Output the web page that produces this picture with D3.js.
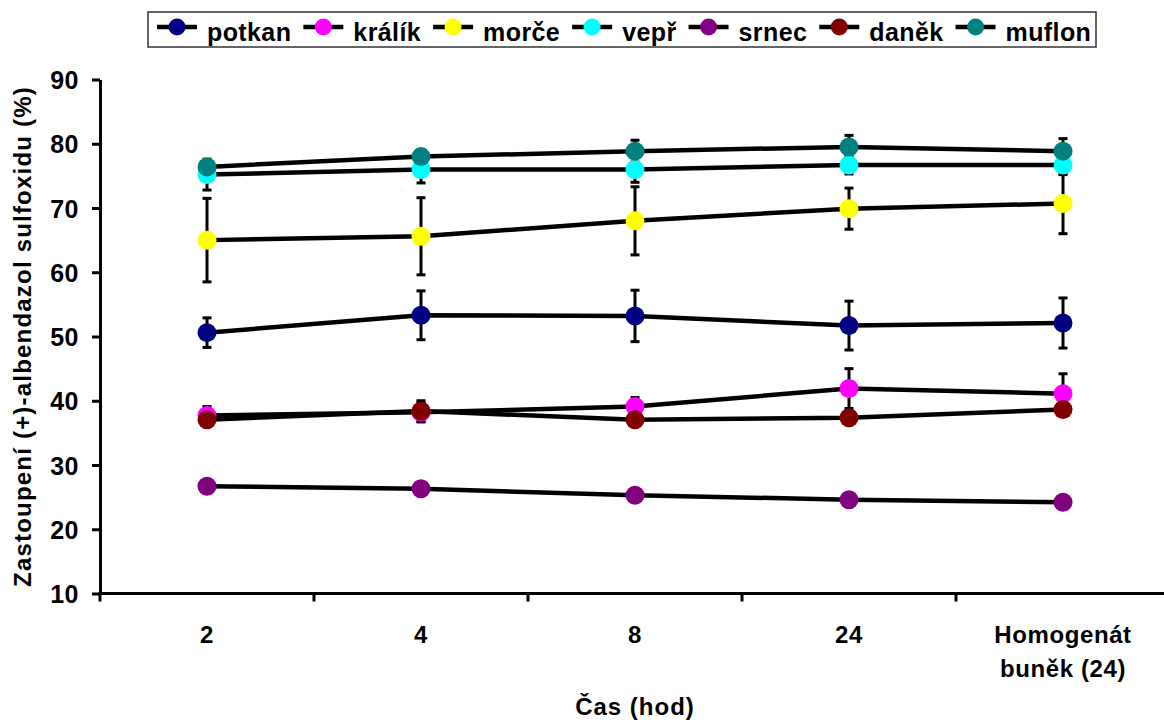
<!DOCTYPE html>
<html>
<head>
<meta charset="utf-8">
<script src="https://cdn.jsdelivr.net/npm/d3@7"></script>
<style>
  body { margin: 0; background: #fff; }
  svg { display: block; }
  text { font-family: "Liberation Sans", Arial, sans-serif; font-weight: bold; fill: #000; }
</style>
</head>
<body>
<svg id="chart" width="1164" height="724"></svg>
<script>
// Sampling times (last group is the cell homogenate at 24 h)
const categories = ["2", "4", "8", "24", "Homogenát buněk (24)"];
const tickLines = [["2"], ["4"], ["8"], ["24"], ["Homogenát", "buněk (24)"]];
const yTicks = [10, 20, 30, 40, 50, 60, 70, 80, 90];

const seriesNames = ["potkan", "králík", "morče", "vepř", "srnec", "daněk", "muflon"];
const seriesColors = ["#000080", "#ff00ff", "#ffff00", "#00ffff", "#800080", "#800000", "#008080"];

// Share of (+)-albendazole sulfoxide (%), mean and SD per species
const potkan   = [50.6, 53.3, 53.2, 51.7, 52.1];
const potkanSd = [2.3, 3.8, 4.0, 3.8, 3.9];
const kralik   = [37.7, 38.2, 39.1, 41.9, 41.1];
const kralikSd = [1.4, 1.5, 1.4, 3.1, 3.1];
const morce    = [65.0, 65.6, 68.0, 69.9, 70.7];
const morceSd  = [6.5, 6.0, 5.3, 3.2, 4.7];
const vepr     = [75.2, 76.0, 76.0, 76.7, 76.7];
const veprSd   = [2.4, 2.1, 2.0, 1.4, 1.5];
const srnec    = [26.7, 26.3, 25.3, 24.6, 24.2];
const srnecSd  = [0.4, 0.4, 0.4, 0.4, 0.4];
const danek    = [37.05, 38.4, 37.05, 37.35, 38.65];
const danekSd  = [0.8, 1.6, 0.8, 0.8, 0.8];
const muflon   = [76.4, 78.0, 78.85, 79.5, 78.85];
const muflonSd = [1.0, 1.0, 1.7, 1.8, 1.95];

const seriesValues = [potkan, kralik, morce, vepr, srnec, danek, muflon];
const seriesSd = [potkanSd, kralikSd, morceSd, veprSd, srnecSd, danekSd, muflonSd];

const series = seriesNames.map((name, i) => ({
  name,
  color: seriesColors[i],
  points: categories.map((c, j) => ({ cat: c, v: seriesValues[i][j], sd: seriesSd[i][j] }))
}));

const svg = d3.select("#chart");

const plotLeft = 100, plotRight = 1170, plotTop = 79.5, plotBottom = 593.5;

const x = d3.scaleBand().domain(categories).range([plotLeft, plotRight]).padding(0);
const y = d3.scaleLinear().domain([10, 90]).range([plotBottom, plotTop]);
const cx = c => x(c) + x.bandwidth() / 2;

// Y axis
const yAxis = svg.append("g")
  .attr("transform", `translate(${plotLeft},0)`)
  .call(d3.axisLeft(y).tickValues(yTicks).tickSize(8).tickPadding(13).tickSizeOuter(0));
yAxis.select(".domain").attr("stroke", "#000").attr("stroke-width", 3);
yAxis.selectAll(".tick line").attr("stroke", "#000").attr("stroke-width", 3);
yAxis.selectAll(".tick text").style("font-size", "25px").style("letter-spacing", "0.5px")
  .attr("font-family", null).attr("dy", "0.36em");

// X axis: line with ticks on the category boundaries
const xAxis = svg.append("g").attr("transform", `translate(0,${plotBottom})`);
xAxis.append("line")
  .attr("x1", plotLeft - 1.5).attr("x2", plotRight)
  .attr("stroke", "#000").attr("stroke-width", 3);
xAxis.selectAll("line.tick")
  .data(categories)
  .join("line")
  .attr("class", "tick")
  .attr("x1", d => x(d)).attr("x2", d => x(d))
  .attr("y1", 0).attr("y2", 8)
  .attr("stroke", "#000").attr("stroke-width", 3);
xAxis.selectAll("text.cat")
  .data(categories)
  .join("text")
  .attr("class", "cat")
  .attr("text-anchor", "middle")
  .style("font-size", "24px")
  .style("letter-spacing", "0.6px")
  .each(function (d, i) {
    d3.select(this).selectAll("tspan")
      .data(tickLines[i])
      .join("tspan")
      .attr("x", cx(d))
      .attr("y", (t, k) => 49 + k * 34.5)
      .text(t => t);
  });

// Axis titles
svg.append("text")
  .attr("text-anchor", "middle")
  .attr("x", cx(categories[2])).attr("y", 715)
  .style("font-size", "24px").style("letter-spacing", "1px")
  .text("Čas (hod)");

svg.append("text")
  .attr("text-anchor", "middle")
  .attr("transform", `translate(31,${(plotTop + plotBottom) / 2}) rotate(-90)`)
  .style("font-size", "24px").style("letter-spacing", "1.2px")
  .text("Zastoupení (+)-albendazol sulfoxidu (%)");

// Error bars
const capHalf = 4.5;
const eb = svg.append("g");
series.forEach(s => {
  const g = eb.append("g");
  g.selectAll("line.v").data(s.points).join("line").attr("class", "v")
    .attr("x1", d => cx(d.cat)).attr("x2", d => cx(d.cat))
    .attr("y1", d => y(d.v + d.sd)).attr("y2", d => y(d.v - d.sd))
    .attr("stroke", "#000").attr("stroke-width", 3);
  ["hi", "lo"].forEach(k => {
    g.selectAll("line." + k).data(s.points).join("line").attr("class", k)
      .attr("x1", d => cx(d.cat) - capHalf).attr("x2", d => cx(d.cat) + capHalf)
      .attr("y1", d => y(k === "hi" ? d.v + d.sd : d.v - d.sd))
      .attr("y2", d => y(k === "hi" ? d.v + d.sd : d.v - d.sd))
      .attr("stroke", "#000").attr("stroke-width", 3);
  });
});

// Series lines
const line = d3.line().x(d => cx(d.cat)).y(d => y(d.v));
svg.append("g").selectAll("path").data(series).join("path")
  .attr("d", s => line(s.points))
  .attr("fill", "none").attr("stroke", "#000").attr("stroke-width", 4.5)
  .attr("stroke-linejoin", "round");

// Markers
svg.append("g").selectAll("g").data(series).join("g")
  .attr("fill", s => s.color)
  .selectAll("circle").data(s => s.points).join("circle")
  .attr("cx", d => cx(d.cat)).attr("cy", d => y(d.v)).attr("r", 9.5);

// Legend
const legend = svg.append("g");
legend.append("rect")
  .attr("x", 148).attr("y", 12).attr("width", 948).attr("height", 35)
  .attr("fill", "#fff").attr("stroke", "#333").attr("stroke-width", 1.5);
let lx = 157;
series.forEach(s => {
  const item = legend.append("g");
  item.append("line").attr("x1", lx).attr("x2", lx + 40).attr("y1", 27).attr("y2", 27)
    .attr("stroke", "#000").attr("stroke-width", 4.5);
  item.append("circle").attr("cx", lx + 20).attr("cy", 27).attr("r", 8.5).attr("fill", s.color);
  const t = item.append("text").attr("x", lx + 50).attr("y", 41)
    .style("font-size", "25px").style("letter-spacing", "0.4px").text(s.name);
  lx += 50 + t.node().getComputedTextLength() + 12;
});
</script>
</body>
</html>
